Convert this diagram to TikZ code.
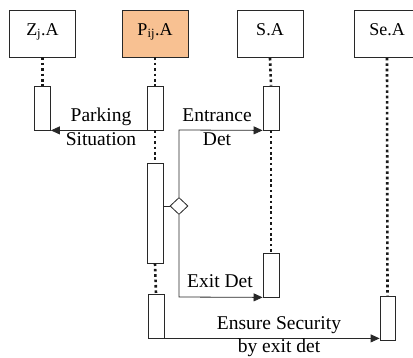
\documentclass[tikz,border=0pt]{standalone}
\usepackage{fontspec}
\setmainfont{Liberation Serif}
\newfontfamily\labelfont{Liberation Serif}
\usetikzlibrary{arrows.meta,shapes.geometric}
\definecolor{peach}{RGB}{248,193,146}
\definecolor{ink}{RGB}{40,40,40}
\begin{document}
\begin{tikzpicture}[x=1pt,y=-1pt,
  actor/.style={draw=ink, line width=0.8pt, minimum width=66pt, minimum height=47pt, inner sep=0pt},
  act/.style={draw=ink, fill=white, line width=0.8pt, minimum width=16pt, inner sep=0pt},
  life/.style={line width=2.6pt, dash pattern=on 2.6pt off 2.8pt, black!90},
  msg/.style={line width=0.8pt, draw=ink, -{Triangle[length=9pt,width=8pt]}},
  link/.style={line width=0.8pt, draw=ink},
  head/.style={font=\labelfont\fontsize{18}{20}\selectfont, inner sep=0pt, anchor=north},
  lbl/.style={font=\labelfont\fontsize{19.5}{21}\selectfont, inner sep=0pt, anchor=base}]
\useasboundingbox (0,0) rectangle (413,358);

% actors
\node[actor] (Z)  at (42.5,33.5) {};
\node[actor, fill=peach] (P) at (155,33.5) {};
\node[actor] (S)  at (270,34) {};
\node[actor] (Se) at (387,34) {};
\node[head] (Zt)  at (42.5,23) {Z\textsubscript{j}.A};
\node[head] (Pt)  at (155,23) {P\textsubscript{ij}.A};
\node[head] (St)  at (270,23) {S.A};
\node[head] (Set) at (387,23) {Se.A};

% activation bars
\node[act, minimum height=44pt]  (Z1)  at (42.5,108) {};
\node[act, minimum height=44pt]  (P1)  at (155,108) {};
\node[act, minimum height=100pt] (P2)  at (155,213) {};
\node[act, minimum height=44pt]  (P3)  at (156,316) {};
\node[act, minimum height=44pt]  (S1)  at (271,108) {};
\node[act, minimum height=44pt]  (S2)  at (271,275) {};
\node[act, minimum width=15pt, minimum height=44pt] (Se1) at (387.5,318) {};

% lifelines
\draw[life] (Z.south) -- (Z1.north);
\draw[life] (P.south) -- (P1.north);
\draw[life] (P1.south) -- (P2.north);
\draw[life] (P2.south) -- (P3.north);
\draw[life] (S.south) -- (S1.north);
\draw[life] (S1.south) -- (S2.north);
\draw[life] (Se.south) -- (Se1.north);

% branch point
\node[diamond, draw=ink, fill=white, line width=0.8pt, minimum width=18pt, minimum height=17pt, inner sep=0pt] (D) at (179,206) {};
\coordinate (Dtop) at (179,130);
\coordinate (Dbot) at (179,297);

% messages
\draw[msg] (P1.south west) -- (Z1.south east);
\draw[link] (P2.east |- D.west) -- (D.west);
\draw[msg] (D.north) -- (Dtop) -- (S1.south west);
\draw[msg] (D.south) -- (Dbot) -- (S2.south west);
\draw[msg] (P3.south east) -- (Se1.south west |- P3.south east);

% message labels
\node[lbl] (m1a) at (101,122) {Parking};
\node[lbl] (m1b) at (101,146) {Situation};
\node[lbl] (m2a) at (217,122) {Entrance};
\node[lbl] (m2b) at (217,146) {Det};
\node[lbl] (m3)  at (220,288) {Exit Det};
\node[lbl] (m4a) at (279,330) {Ensure Security};
\node[lbl] (m4b) at (279,353) {by exit det};
\end{tikzpicture}
\end{document}
